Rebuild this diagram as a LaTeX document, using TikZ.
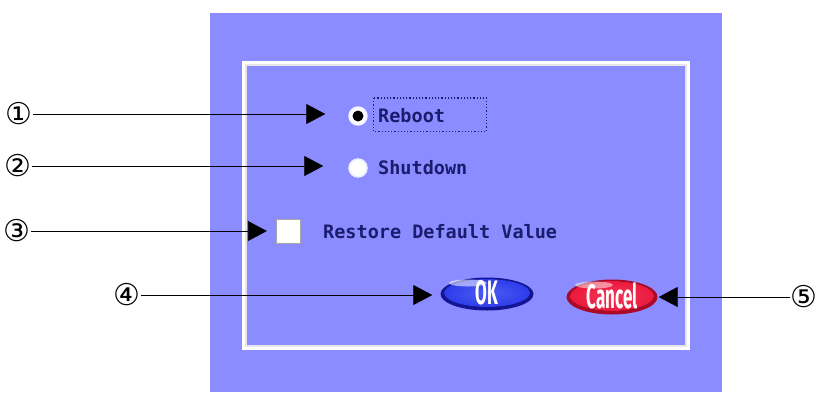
\documentclass[tikz,border=0pt]{standalone}
\usepackage{fontspec}
\setmainfont{DejaVu Sans}
\newfontfamily\uimono{DejaVu Sans Mono}
\newfontfamily\btnfont{Fira Sans}
\usetikzlibrary{arrows.meta,shapes.geometric,fadings}
\definecolor{panel}{RGB}{138,140,255}
\definecolor{uitext}{RGB}{28,28,110}
\definecolor{okdark}{RGB}{20,20,150}
\definecolor{okmid}{RGB}{45,60,235}
\definecolor{okhi}{RGB}{150,170,255}
\definecolor{cndark}{RGB}{170,10,40}
\definecolor{cnmid}{RGB}{235,25,60}
\definecolor{cnhi}{RGB}{255,150,170}
\tikzset{
  callout/.style={font=\fontsize{30}{30}\selectfont, inner sep=0pt},
  arr/.style={draw=black, line width=0.8pt, -{Triangle[length=19pt,width=20pt]}},
  uilabel/.style={font=\uimono\bfseries\fontsize{18.5}{18.5}\selectfont, text=uitext, anchor=west, inner sep=0pt},
  radio/.style={circle, minimum size=18pt, inner sep=0pt, fill=white, draw=white!85!panel, line width=1.5pt},
  btnlabel/.style={font=\btnfont\bfseries\fontsize{34}{34}\selectfont, text=white}
}
\begin{document}
\begin{tikzpicture}[x=1pt,y=-1pt]
  \useasboundingbox (0,0) rectangle (816,392);
  % dialog background
  \fill[panel] (210,13) rectangle (722,392);
  % inner frame
  \draw[white!80!gray, line width=1.6pt] (246,65) rectangle (686,346);
  \draw[white, line width=3pt] (243.5,62.5) rectangle (688.5,348.5);

  % radio buttons
  \node[radio] (rb1) at (358,116) {};
  \fill[black] (rb1) circle (5.5pt);
  \node[uilabel] (lb1) at (378,116) {Reboot};
  \draw[uitext, line width=1.2pt, dotted] (373.5,98) rectangle (486.5,131.5);
  \node[radio] (rb2) at (358,168) {};
  \node[uilabel] (lb2) at (378,168) {Shutdown};

  % check box
  \node[draw=gray!70, line width=1.2pt, fill=white, minimum size=24pt, inner sep=0pt] (cb) at (288.5,231.5) {};
  \node[uilabel] (lb3) at (323,232) {Restore Default Value};

  % OK button
  \node[ellipse, minimum width=93pt, minimum height=33pt, inner sep=0pt] (ok) at (487,294) {};
  \fill[okdark] (ok.center) ellipse (46.5pt and 16.5pt);
  \fill[inner color=okmid!70!okhi, outer color=okmid] (487,293) ellipse (43pt and 14pt);
  \fill[white, opacity=0.55] (468,283) ellipse (19pt and 3.5pt);
  \node[btnlabel, xscale=0.5] (okt) at ([yshift=1pt]ok.center) {OK};

  % Cancel button
  \node[ellipse, minimum width=91pt, minimum height=35pt, inner sep=0pt] (cn) at (612,297) {};
  \fill[cndark] (cn.center) ellipse (45.5pt and 17.5pt);
  \fill[inner color=cnmid!75!cnhi, outer color=cnmid] (612,296) ellipse (42pt and 15pt);
  \fill[white, opacity=0.5] (594,285) ellipse (19pt and 3.5pt);
  \node[btnlabel, xscale=0.5] (cnt) at ([yshift=1pt]cn.center) {Cancel};

  % callouts
  \node[callout] (c1) at (19,114) {①};
  \node[callout] (c2) at (18,166) {②};
  \node[callout] (c3) at (17,231) {③};
  \node[callout] (c4) at (127,295) {④};
  \node[callout] (c5) at (804,297) {⑤};
  \draw[arr] (c1.east) -- ([xshift=-23pt]rb1.west |- c1.east);
  \draw[arr] (c2.east) -- ([xshift=-25pt]rb2.west |- c2.east);
  \draw[arr] (c3.east) -- ([xshift=-9pt]cb.west |- c3.east);
  \draw[arr] (c4.east) -- ([xshift=-8pt]ok.west |- c4.east);
  \draw[arr] (c5.west) -- ([xshift=1pt]cn.east |- c5.west);
\end{tikzpicture}
\end{document}
